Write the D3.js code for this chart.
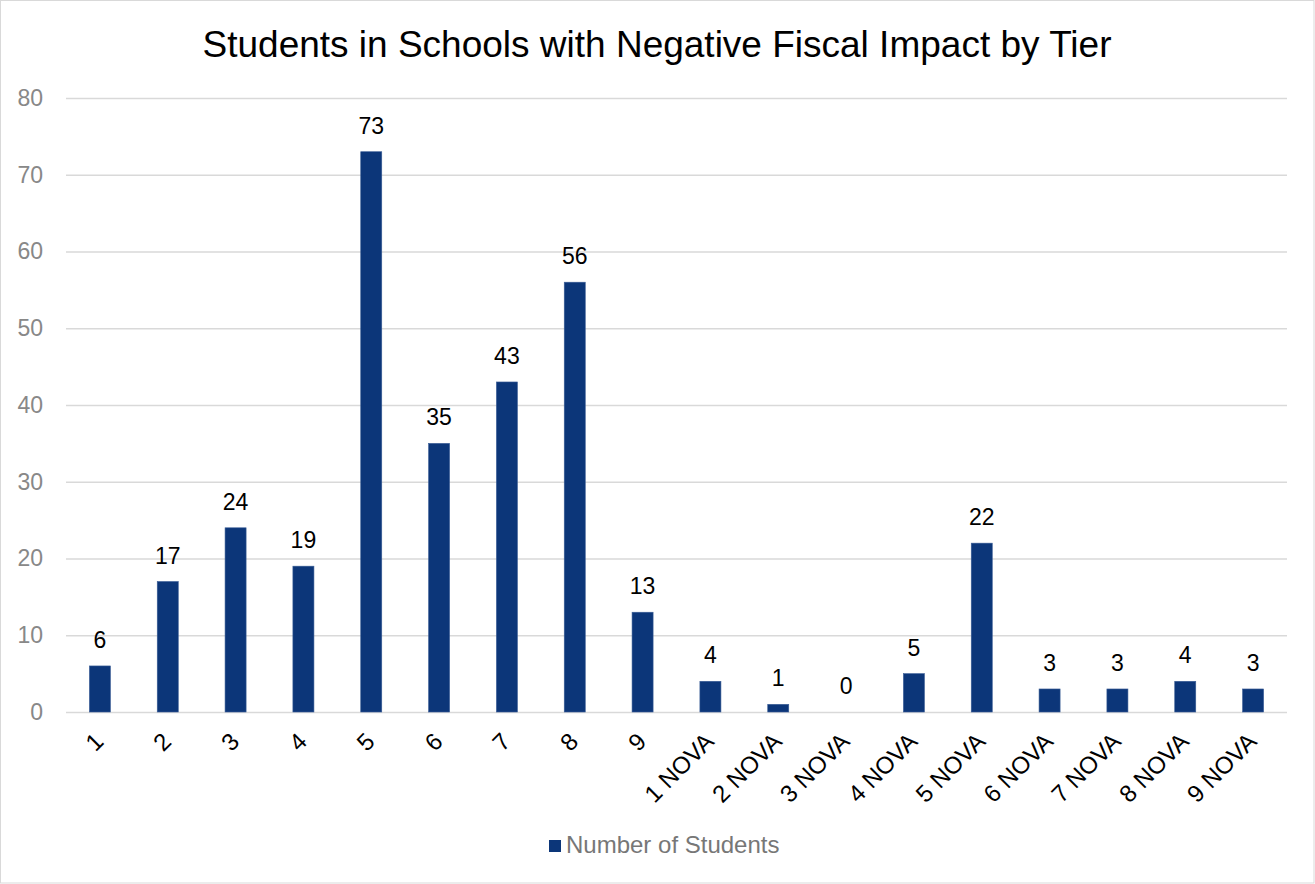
<!DOCTYPE html>
<html><head><meta charset="utf-8">
<script src="https://cdn.jsdelivr.net/npm/d3@7"></script>
<style>body{margin:0;background:#fff;font-family:"Liberation Sans",Arial,sans-serif;}</style>
</head><body>
<svg id="c" width="1315" height="884"></svg>
<script>
const categories = ["1","2","3","4","5","6","7","8","9","1 NOVA","2 NOVA","3 NOVA","4 NOVA","5 NOVA","6 NOVA","7 NOVA","8 NOVA","9 NOVA"];
const students = [6,17,24,19,73,35,43,56,13,4,1,0,5,22,3,3,4,3];
const yTicks = [0,10,20,30,40,50,60,70,80];
const seriesName = "Number of Students";
const titleText = "Students in Schools with Negative Fiscal Impact by Tier";

const svg = d3.select("#c");
const W = 1315, H = 884;
const m = {left:66, right:28, top:98, bottom:172};
const barColor = "#0c3679";
const FF = "Liberation Sans, Arial, sans-serif";

svg.append("rect").attr("x",0.5).attr("y",0.5).attr("width",W-1.5).attr("height",H-1.5)
  .attr("fill","#fff").attr("stroke","#d9d9d9");

svg.append("text").attr("x",657).attr("y",57).attr("text-anchor","middle")
  .attr("font-size",37).attr("fill","#000").text(titleText);

const x = d3.scaleBand().domain(categories).range([m.left, W-m.right]).paddingInner(0.69).paddingOuter(0.345);
const y = d3.scaleLinear().domain([0,80]).range([H-m.bottom, m.top]);

const yAxis = svg.append("g").attr("transform",`translate(${m.left},0)`)
  .call(d3.axisLeft(y).tickValues(yTicks).tickSize(-(W-m.left-m.right)).tickPadding(23));
yAxis.select(".domain").remove();
yAxis.selectAll(".tick line").attr("stroke","#d9d9d9").attr("stroke-width",1.5);
yAxis.selectAll(".tick text").attr("fill","#888").attr("font-size",23).attr("font-family",FF);

svg.append("g").selectAll("rect").data(students).join("rect")
  .attr("x",(d,i)=>x(categories[i])).attr("width",x.bandwidth())
  .attr("y",d=>y(d)).attr("height",d=>y(0)-y(d))
  .attr("fill",barColor).attr("stroke","#3a5d96").attr("stroke-width",0.6);

svg.append("g").selectAll("text").data(students).join("text")
  .attr("x",(d,i)=>x(categories[i])+x.bandwidth()/2).attr("y",d=>y(d)-18)
  .attr("text-anchor","middle").attr("font-size",23).attr("fill","#000").text(d=>d);

const xAxis = svg.append("g").attr("transform",`translate(0,${y(0)})`)
  .call(d3.axisBottom(x).tickSize(0).tickPadding(0));
xAxis.select(".domain").remove();
xAxis.selectAll(".tick text")
  .attr("font-size",24).attr("fill","#000").attr("font-family",FF)
  .attr("text-anchor","end").attr("dy",null).attr("y",0)
  .attr("transform","translate(5,31) rotate(-45)");

const lg = svg.append("g");
lg.append("rect").attr("x",549).attr("y",840).attr("width",12).attr("height",12).attr("fill",barColor);
lg.append("text").attr("x",566).attr("y",853).attr("font-size",24).attr("fill","#777").attr("font-family",FF).text(seriesName);
</script>
</body></html>
